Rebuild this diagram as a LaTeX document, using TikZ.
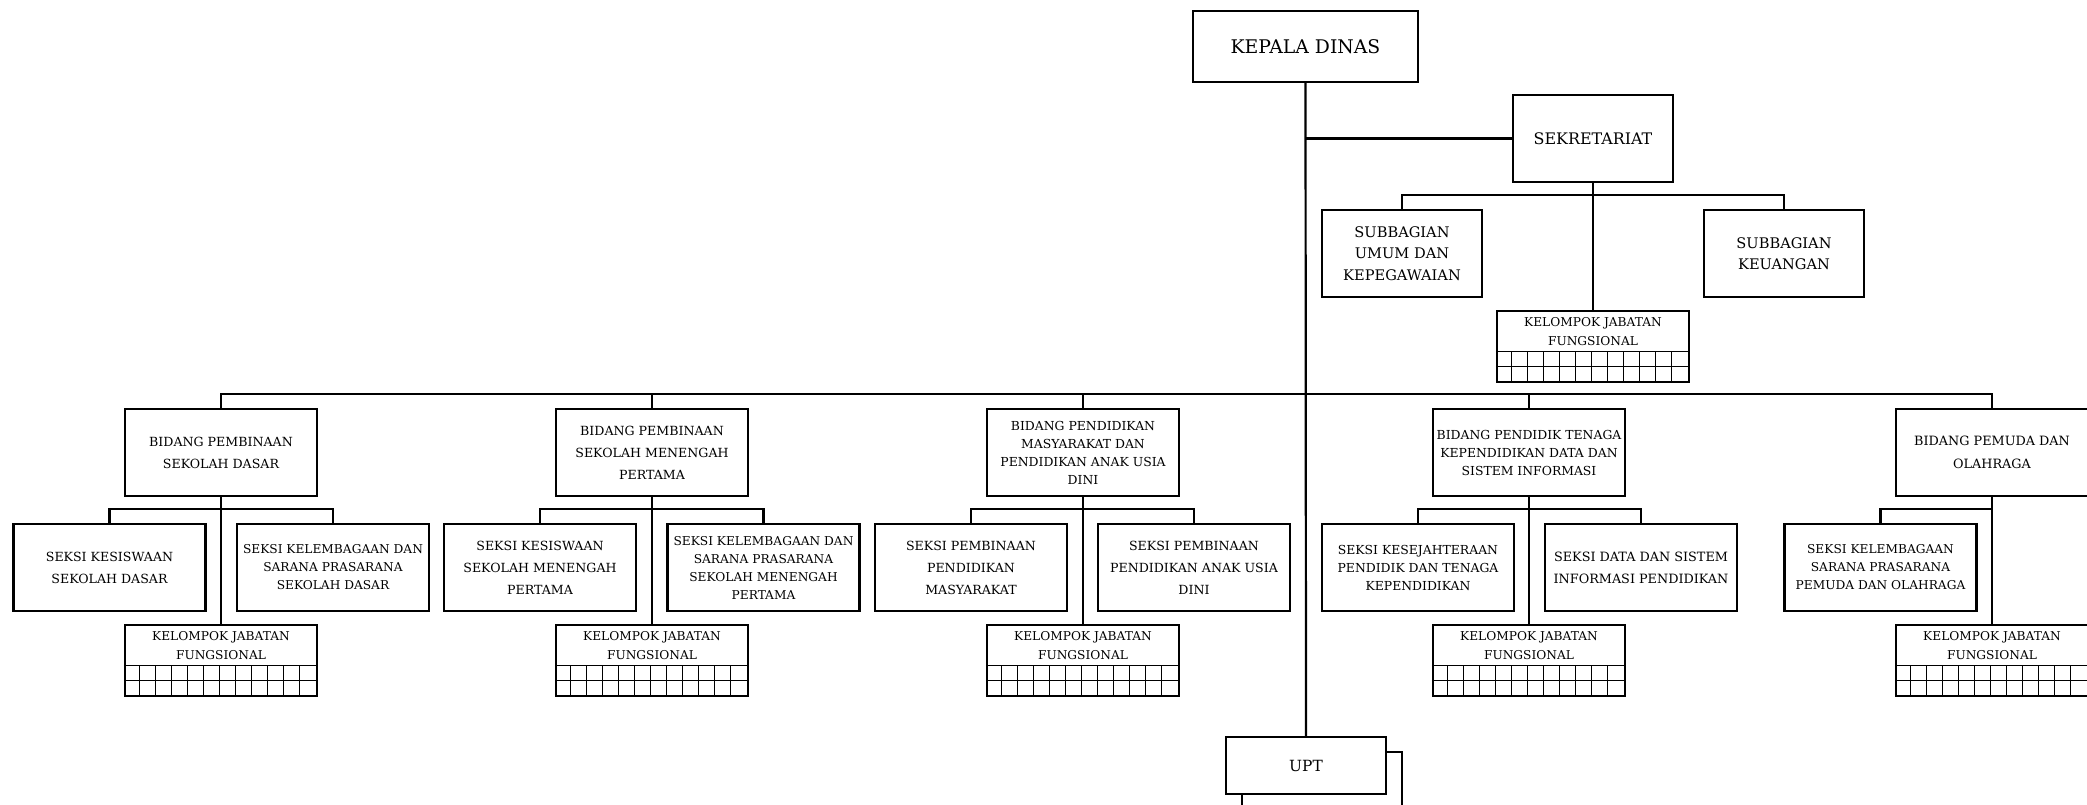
\documentclass[tikz,border=0pt]{standalone}
\usepackage{fontspec}
\setmainfont{DejaVu Serif}
\newcommand\kjfbox[2]{%
  \node[box,minimum width=192pt,minimum height=71pt] (#1) at (#2) {};
  \node[fK,align=center,inner sep=0pt] (#1t) at ([yshift=-21.5pt]#1.north) {KELOMPOK JABATAN\\FUNGSIONAL};
  \draw[gridl] ([yshift=-42pt]#1.north west) -- ([yshift=-42pt]#1.north east);
  \draw[gridl] ([yshift=-57pt]#1.north west) -- ([yshift=-57pt]#1.north east);
  \foreach \k in {1,...,11} {\draw[gridl] ([xshift={16pt*\k},yshift=-42pt]#1.north west) -- ([xshift={16pt*\k}]#1.south west);}
}
\begin{document}
\begin{tikzpicture}[x=1pt,y=-1pt,
  box/.style={draw,line width=2.2pt,rectangle,inner sep=0pt,align=center},
  conn/.style={line width=2.2pt},
  gridl/.style={line width=1pt},
  wide/.style={minimum width=192pt,minimum height=87pt},
  mid/.style={minimum width=160pt,minimum height=87pt},
  fA/.style={font=\fontsize{12.6}{22}\selectfont},
  fB/.style={font=\fontsize{12.2}{18}\selectfont},
  fK/.style={font=\fontsize{12.2}{18.5}\selectfont},
  fS/.style={font=\fontsize{14.6}{21.5}\selectfont}]
\fill[white] (0,0) rectangle (2087,805);
\useasboundingbox (0,0) rectangle (2087,805);

% top level
\node[box,minimum width=225pt,minimum height=71pt,font=\fontsize{18.8}{22}\selectfont] (kd) at (1305.5,46.5) {KEPALA DINAS};
\node[box,mid,font=\fontsize{15.9}{20}\selectfont] (sek) at (1593,138.5) {SEKRETARIAT};
\node[box,mid,fS] (sumum) at (1402,253.5) {SUBBAGIAN\\UMUM DAN\\KEPEGAWAIAN};
\node[box,mid,fS] (skeu) at (1784,253.5) {SUBBAGIAN\\KEUANGAN};
\kjfbox{kjf0}{1593,346.5}

% bidang
\node[box,wide,fA] (b1) at (221,452.5) {BIDANG PEMBINAAN\\SEKOLAH DASAR};
\node[box,wide,fA] (b2) at (652,452.5) {BIDANG PEMBINAAN\\SEKOLAH MENENGAH\\PERTAMA};
\node[box,wide,fB,font=\fontsize{12.4}{18}\selectfont] (b3) at (1083,452.5) {BIDANG PENDIDIKAN\\MASYARAKAT DAN\\PENDIDIKAN ANAK USIA\\DINI};
\node[box,wide,fB,font=\fontsize{12.4}{18}\selectfont] (b4) at (1529,452.5) {BIDANG PENDIDIK TENAGA\\KEPENDIDIKAN DATA DAN\\SISTEM INFORMASI};
\node[box,wide,font=\fontsize{12.8}{22.5}\selectfont] (b5) at (1992,452.5) {BIDANG PEMUDA DAN\\OLAHRAGA};

% seksi
\node[box,wide,fA] (s1a) at (109.5,567.5) {SEKSI KESISWAAN\\SEKOLAH DASAR};
\node[box,wide,fB] (s1b) at (333,567.5) {SEKSI KELEMBAGAAN DAN\\SARANA PRASARANA\\SEKOLAH DASAR};
\node[box,wide,fA] (s2a) at (540,567.5) {SEKSI KESISWAAN\\SEKOLAH MENENGAH\\PERTAMA};
\node[box,wide,fB] (s2b) at (763.5,567.5) {SEKSI KELEMBAGAAN DAN\\SARANA PRASARANA\\SEKOLAH MENENGAH\\PERTAMA};
\node[box,wide,fA] (s3a) at (971,567.5) {SEKSI PEMBINAAN\\PENDIDIKAN\\MASYARAKAT};
\node[box,wide,fA] (s3b) at (1194,567.5) {SEKSI PEMBINAAN\\PENDIDIKAN ANAK USIA\\DINI};
\node[box,wide,fB,font=\fontsize{12.4}{18}\selectfont] (s4a) at (1418,567.5) {SEKSI KESEJAHTERAAN\\PENDIDIK DAN TENAGA\\KEPENDIDIKAN};
\node[box,wide,font=\fontsize{12.8}{21.7}\selectfont] (s4b) at (1641,567.5) {SEKSI DATA DAN SISTEM\\INFORMASI PENDIDIKAN};
\node[box,wide,fB] (s5) at (1880.5,567.5) {SEKSI KELEMBAGAAN\\SARANA PRASARANA\\PEMUDA DAN OLAHRAGA};

% kelompok jabatan fungsional
\kjfbox{kjf1}{221,660.5}
\kjfbox{kjf2}{652,660.5}
\kjfbox{kjf3}{1083,660.5}
\kjfbox{kjf4}{1529,660.5}
\kjfbox{kjf5}{1992,660.5}

% UPT
\node[box,minimum width=160pt,minimum height=57pt,font=\fontsize{15.4}{20}\selectfont] (upt) at (1306,765.5) {UPT};
\coordinate (uptr) at (1402,812);
\coordinate (uptb) at (1242,812);

% connectors
\draw[conn] (kd.south) -- (upt.north);
\draw[conn] (sek.west) -- (sek.west -| kd.south);
\draw[conn] (sek.south) -- (kjf0.north);
\draw[conn] (sumum.north) -- ++(0,-14) -| (skeu.north);
\draw[conn] (b1.north) -- ++(0,-14) -| (b5.north);
\draw[conn] (b2.north) -- ++(0,-14);
\draw[conn] (b3.north) -- ++(0,-14);
\draw[conn] (b4.north) -- ++(0,-14);
\foreach \b in {1,2,3,4,5} {\draw[conn] (b\b.south) -- (kjf\b.north);}
\draw[conn] (s1a.north) -- ++(0,-14) -| (s1b.north);
\draw[conn] (s2a.north) -- ++(0,-14) -| (s2b.north);
\draw[conn] (s3a.north) -- ++(0,-14) -| (s3b.north);
\draw[conn] (s4a.north) -- ++(0,-14) -| (s4b.north);
\draw[conn] (s5.north) -- ++(0,-14) -| (b5.south);
\draw[conn] ([yshift=13.5pt]upt.east) -| (uptr);
\draw[conn] (upt.south -| uptb) -- (uptb);
\end{tikzpicture}
\end{document}
